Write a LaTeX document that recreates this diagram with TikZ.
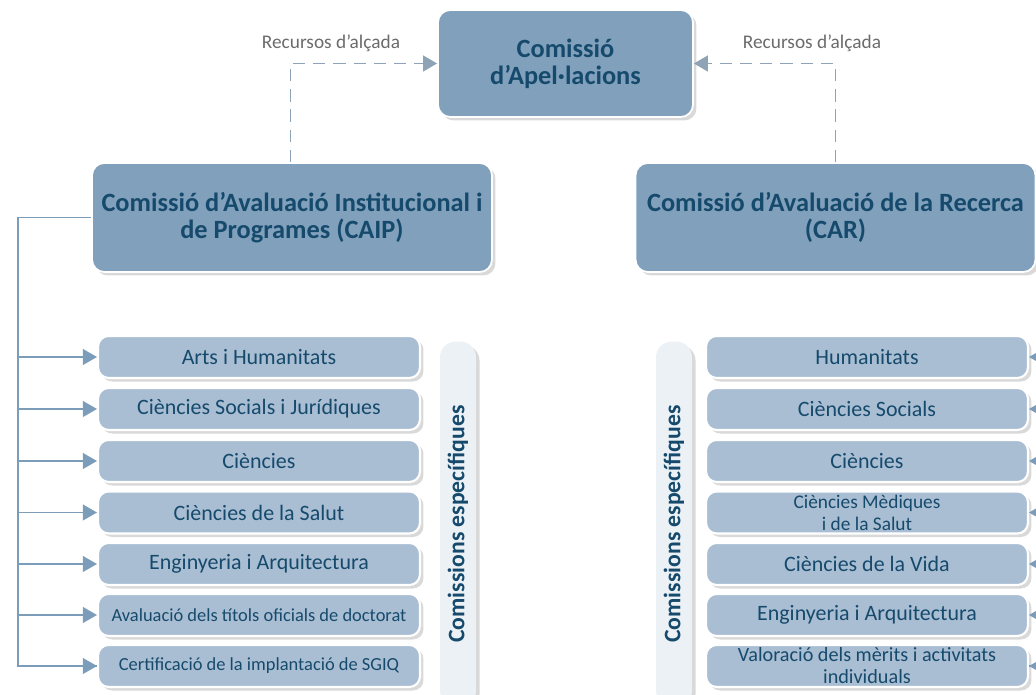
\documentclass[tikz,border=0pt]{standalone}
\usepackage{fontspec}
\setmainfont{Carlito}
\usetikzlibrary{arrows.meta,shadows}
\definecolor{colBig}{RGB}{128,160,187}
\definecolor{colSub}{RGB}{169,190,211}
\definecolor{colTag}{RGB}{236,241,246}
\definecolor{colInk}{RGB}{22,74,108}
\definecolor{colLine}{RGB}{124,157,186}
\definecolor{colDash}{RGB}{142,163,182}
\colorlet{colNote}{black!58!white}
\tikzstyle{shade}=[drop shadow={shadow xshift=2pt,shadow yshift=-2pt,opacity=.3}]
\tikzstyle{bigbox}=[rectangle, rounded corners=7pt, fill=colBig, draw=white, line width=1pt, shade, text=colInk, font=\fontsize{15}{15.5}\selectfont\bfseries, align=center, inner sep=0pt]
\tikzstyle{subbox}=[rectangle, rounded corners=6pt, fill=colSub, draw=white, line width=1.2pt, shade, text=colInk, font=\fontsize{12.5}{12.5}\selectfont, align=center, inner sep=0pt, minimum width=6.44cm, minimum height=0.84cm]
\tikzstyle{tagbox}=[rectangle, rounded corners=9pt, fill=colTag, shade, text=colInk, font=\fontsize{13.5}{14}\selectfont\bfseries, inner sep=0pt, minimum width=7.3cm, minimum height=0.72cm, rotate=90]
\tikzstyle{note}=[text=colNote, font=\fontsize{11}{12}\selectfont, inner sep=0pt]
\tikzstyle{dedge}=[colDash, line width=1pt, dash pattern=on 7pt off 4.5pt, -{Triangle[length=8pt,width=9pt]}]
\tikzstyle{trunk}=[colLine, line width=0.8pt]
\tikzstyle{arr}=[trunk, -{Triangle[length=8pt,width=9pt]}]

\begin{document}
\begin{tikzpicture}[x=0.02cm,y=-0.02cm]
	\path[use as bounding box,clip] (0,0) rectangle (1036,695);
		% top level
		\node[bigbox, minimum width=5.1cm, minimum height=2.14cm] (apel) at (565.5,63.5) {Comissió\\d'Apel·lacions};
		\node[bigbox, minimum width=8cm, minimum height=2.18cm] (caip) at (292,217.5) {Comissió d'Avaluació Institucional i\\de Programes (CAIP)};
		\node[bigbox, minimum width=8cm, minimum height=2.18cm] (car) at (835.5,217.5) {Comissió d’Avaluació de la Recerca\\(CAR)};
		\node[note] (lnote) at (331,43) {Recursos d’alçada};
		\node[note] (rnote) at (812,43) {Recursos d’alçada};
		\draw[dedge] (caip.north -| lnote.west) ++(29,0) |- (apel.west);
		\draw[dedge] (car.north) |- (apel.east);
		% CAIP
		\node[subbox] (a1) at (259,357) {Arts i Humanitats};
		\node[subbox] (a2) at (259,409) {Ciències Socials i Jurídiques};
		\node[subbox] (a3) at (259,461) {Ciències};
		\node[subbox] (a4) at (259,512.5) {Ciències de la Salut};
		\node[subbox] (a5) at (259,564) {Enginyeria i Arquitectura};
		\node[subbox] (a6) at (259,615) {\fontsize{10.5}{12}\selectfont Avaluació dels títols oficials de doctorat};
		\node[subbox] (a7) at (259,666) {\fontsize{10.5}{12}\selectfont Certificació de la implantació de SGIQ};
		\node[tagbox] (atag) at (458,524) {Comissions específiques};
		\coordinate (ltrunk) at (18,217.5);
		\draw[trunk] (caip.west) -- (ltrunk) |- (a7.west);
		\path (ltrunk |- a1.west)edge[arr](a1.west) (ltrunk |- a2.west)edge[arr](a2.west) (ltrunk |- a3.west)edge[arr](a3.west) (ltrunk |- a4.west)edge[arr](a4.west) (ltrunk |- a5.west)edge[arr](a5.west) (ltrunk |- a6.west)edge[arr](a6.west) (ltrunk |- a7.west)edge[arr](a7.west);
		% CAR
		\node[subbox] (b1) at (867,357) {Humanitats};
		\node[subbox] (b2) at (867,409) {Ciències Socials};
		\node[subbox] (b3) at (867,461) {Ciències};
		\node[subbox] (b4) at (867,512.5) {\fontsize{11}{11.5}\selectfont Ciències Mèdiques\\\fontsize{11}{11.5}\selectfont i de la Salut};
		\node[subbox] (b5) at (867,564) {Ciències de la Vida};
		\node[subbox] (b6) at (867,615) {Enginyeria i Arquitectura};
		\node[subbox] (b7) at (867,666) {\fontsize{11.5}{11.5}\selectfont Valoració dels mèrits i activitats\\\fontsize{11.5}{11.5}\selectfont individuals};
		\node[tagbox] (btag) at (674,524) {Comissions específiques};
		\coordinate (rtrunk) at (1060,217.5);
		\draw[trunk] (car.east) -- (rtrunk) |- (b7.east);
		\path (rtrunk |- b1.east)edge[arr](b1.east) (rtrunk |- b2.east)edge[arr](b2.east) (rtrunk |- b3.east)edge[arr](b3.east) (rtrunk |- b4.east)edge[arr](b4.east) (rtrunk |- b5.east)edge[arr](b5.east) (rtrunk |- b6.east)edge[arr](b6.east) (rtrunk |- b7.east)edge[arr](b7.east);
	\end{tikzpicture}
\end{document}
